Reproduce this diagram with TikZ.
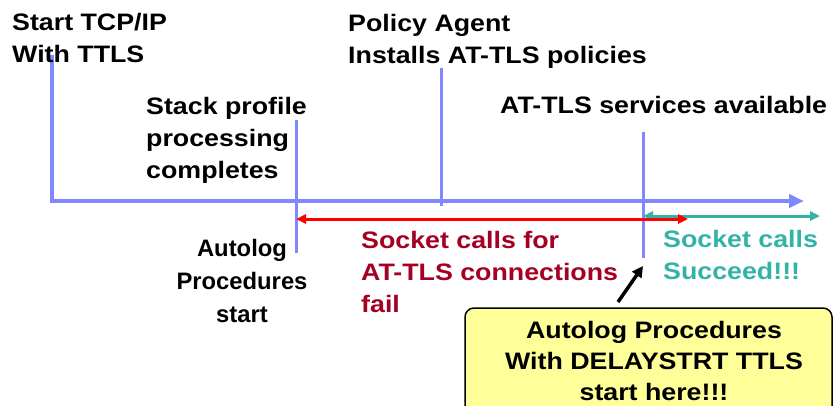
\documentclass[tikz,border=0pt]{standalone}
\usepackage{fontspec}
\setmainfont[FakeStretch=1.125]{Liberation Sans}
\newfontfamily\narrowsans{Liberation Sans}
\usetikzlibrary{arrows.meta}
\definecolor{axisblue}{HTML}{8088FF}
\definecolor{failred}{HTML}{A50021}
\definecolor{okteal}{HTML}{33B3A8}
\definecolor{notefill}{HTML}{FFFF99}
\begin{document}
\begin{tikzpicture}[x=1pt,y=-1pt,
  lbl/.style={font=\fontsize{23.8}{32}\selectfont\bfseries, inner sep=0pt, align=left, anchor=base west},
  clbl/.style={lbl, align=center, anchor=base},
  axis/.style={draw=axisblue, line width=4pt},
  tick/.style={draw=axisblue, line width=3pt},
  span/.style={line width=3pt, {Triangle[length=10pt,width=9pt]}-{Triangle[length=10pt,width=9pt]}}]
\useasboundingbox (0,0) rectangle (834,405);
\fill[white] (0,0) rectangle (834,405);
\clip (0,0) rectangle (834,405);

% time axis with its starting event
\coordinate (start) at (52,55);
\coordinate (tip) at (804,201);
\draw[axis, -{Triangle[length=15pt,width=13pt]}] (start) |- (tip);

% event ticks
\coordinate (stackTop) at (296,120);
\coordinate (stackBot) at (296,253);
\coordinate (polTop) at (441,68);
\coordinate (polBot) at (441,206);
\coordinate (tlsTop) at (643,132);
\coordinate (tlsBot) at (643,258);
\draw[tick] (stackTop) -- (stackBot);
\draw[tick] (polTop) -- (polBot);
\draw[tick] (tlsTop) -- (tlsBot);

% failure and success intervals
\coordinate (failL) at (296,219);
\coordinate (failR) at (688,219);
\coordinate (okL) at (643,216);
\coordinate (okR) at (820,216);
\draw[span, okteal] (okL) -- (okR);
\draw[span, red] (failL) -- (failR);

% labels (each placed by the baseline of its last line)
\node[lbl] (lstart) at (12,62) {Start TCP/IP\\With TTLS};
\node[lbl] (lpolicy) at (348,63) {Policy Agent\\Installs AT-TLS policies};
\node[lbl] (lstack) at (146,178) {Stack profile\\processing\\completes};
\node[lbl] (ltls) at (500,113) {AT-TLS services available};
\node[clbl, font=\fontsize{23.8}{33}\selectfont\narrowsans\bfseries] (lauto) at (242,322) {Autolog\\Procedures\\start};
\node[lbl, text=failred] (lfail) at (361,312) {Socket calls for\\AT-TLS connections\\fail};
\node[lbl, text=okteal] (lok) at (663,279) {Socket calls\\Succeed!!!};

% callout
\node[draw=black, line width=1.5pt, fill=notefill, rounded corners=9pt,
      minimum width=367pt, minimum height=112pt, inner sep=0pt] (note) at (648.5,364) {};
\node[clbl, font=\fontsize{23.8}{31}\selectfont\bfseries] (notetext) at (654,400) {Autolog Procedures\\With DELAYSTRT TTLS\\start here!!!};
\coordinate (ptrFrom) at (618,302);
\coordinate (ptrTo) at (643,266);
\draw[line width=3.5pt, -{Triangle[length=11pt,width=11pt]}] (ptrFrom) -- (ptrTo);
\end{tikzpicture}
\end{document}
